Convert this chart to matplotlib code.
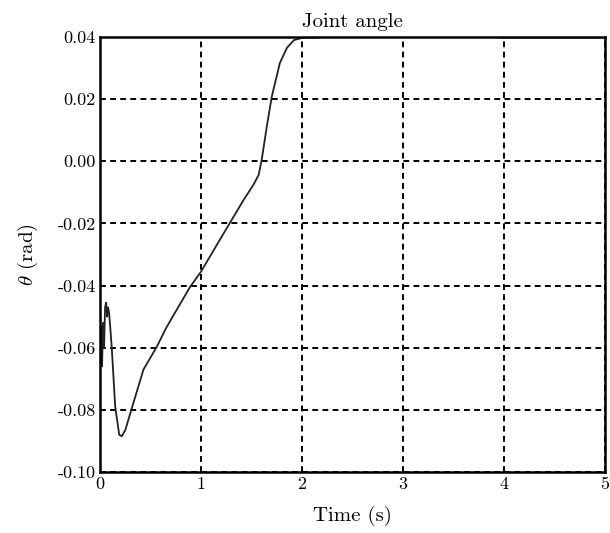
import matplotlib
matplotlib.use("Agg")
import matplotlib.pyplot as plt

# joint angle (time in s, angle in rad)
t = [0.0, 0.01, 0.02, 0.03, 0.04, 0.05, 0.06, 0.07, 0.08, 0.09, 0.10, 0.116,
     0.15, 0.19, 0.215, 0.25, 0.33, 0.43, 0.56, 0.66, 0.89, 1.0, 1.2,
     1.42, 1.52, 1.57, 1.60, 1.65, 1.70, 1.78, 1.85, 1.92, 2.01, 2.15,
     2.16, 3.94, 3.95, 5.0]
theta = [-0.065, -0.053, -0.066, -0.052, -0.060, -0.047, -0.0455, -0.050, -0.047,
         -0.049, -0.053, -0.060, -0.079, -0.088, -0.0885, -0.0865, -0.0778,
         -0.067, -0.0598, -0.0533, -0.0405, -0.0355, -0.0245, -0.0125,
         -0.0075, -0.0044, 0.0004, 0.011, 0.0208, 0.0316, 0.0365, 0.0390,
         0.0398, 0.0398, 0.0406, 0.0406, 0.0398, 0.0398]

xticks = [0, 1, 2, 3, 4, 5]
yticks = [-0.10, -0.08, -0.06, -0.04, -0.02, 0.00, 0.02, 0.04]
ylabels = ["-0.10", "-0.08", "-0.06", "-0.04", "-0.02", "0.00", "0.02", "0.04"]

plt.rcParams["font.family"] = "serif"
plt.rcParams["font.serif"] = ["cmr10", "DejaVu Serif"]
plt.rcParams["mathtext.fontset"] = "cm"

fig = plt.figure(figsize=(6.1, 5.33), dpi=100)
ax = fig.add_axes([0.164, 0.1144, 0.828, 0.8162])

ax.plot(t, theta, color="#222222", linewidth=1.3)

ax.set_xlim(0, 5)
ax.set_ylim(-0.10, 0.04)
ax.set_xticks(xticks)
ax.set_xticklabels([str(v) for v in xticks])
ax.set_yticks(yticks)
ax.set_yticklabels(ylabels)
ax.tick_params(length=0, labelsize=13, pad=3)

ax.grid(True, color="black", linestyle=(0, (3, 2.2)), linewidth=1.4)
for s in ax.spines.values():
    s.set_linewidth(1.8)

ax.set_title("Joint angle", fontsize=15, pad=7)
ax.set_xlabel("Time (s)", fontsize=15, labelpad=10)
ax.set_ylabel(r"$\theta$ (rad)", fontsize=15, labelpad=13)

fig.savefig("out.png", dpi=100)
